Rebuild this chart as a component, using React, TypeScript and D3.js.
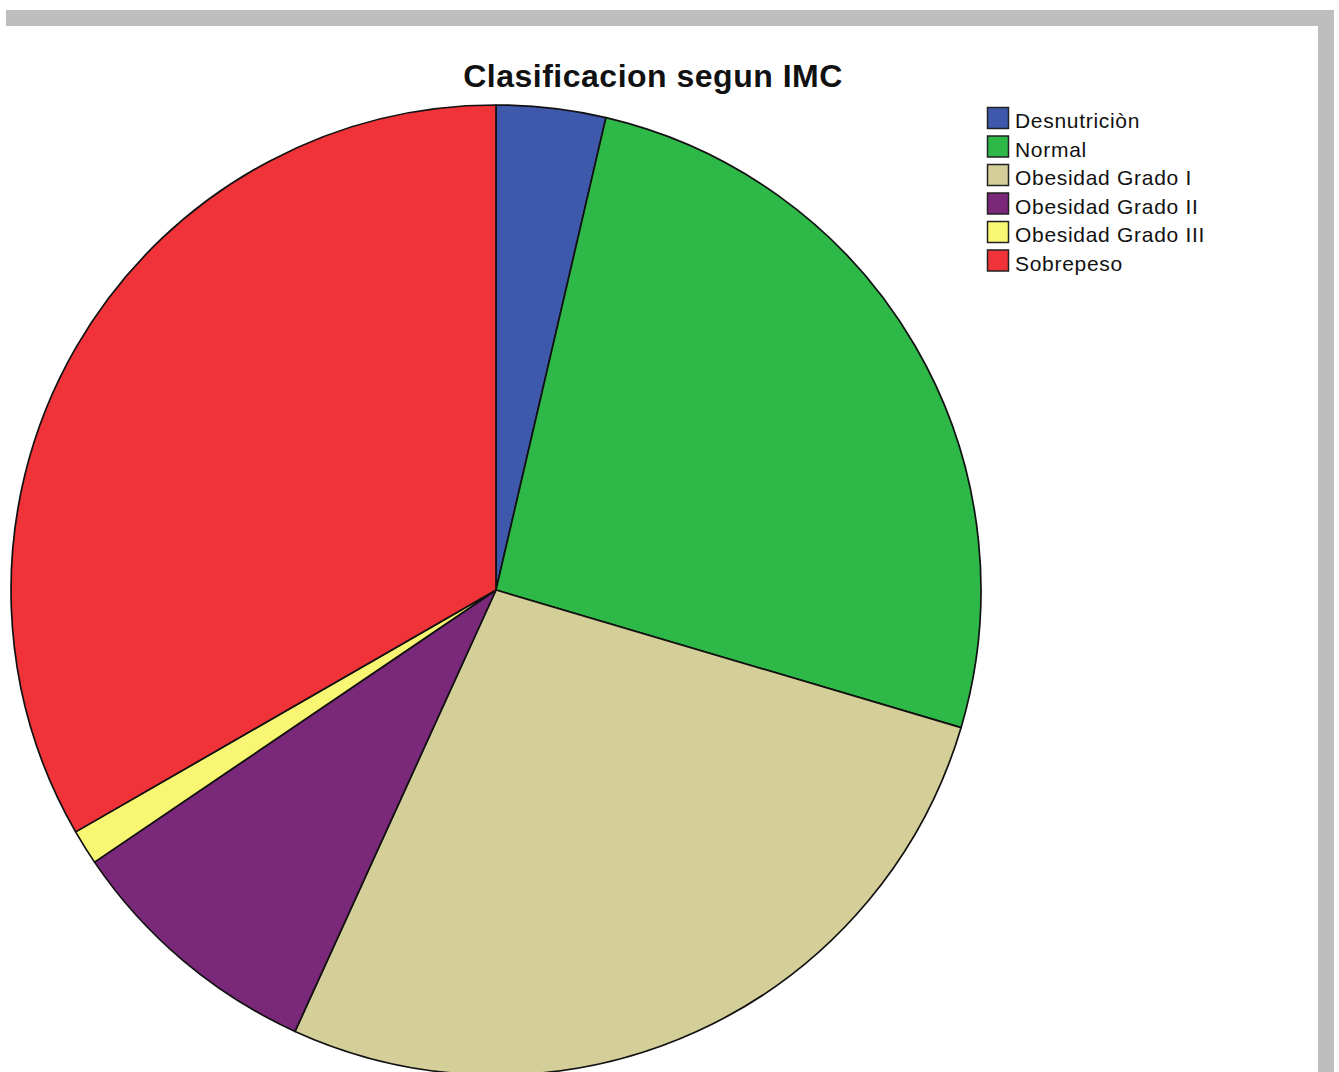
import React from "react";
import * as d3 from "d3";

const categories = ["Desnutriciòn", "Normal", "Obesidad Grado I", "Obesidad Grado II", "Obesidad Grado III", "Sobrepeso"];
const values = [3.64, 25.94, 27.22, 8.72, 1.17, 33.31];
const colors = ["#3E58AC", "#2EB848", "#D4CE98", "#7A287A", "#F8F672", "#EF3338"];
const title = "Clasificacion segun IMC";

const W = 1339;
const H = 1072;
const cx = 496;
const cy = 590;
const R = 485;

export default function App() {
  const pie = d3.pie<number>().sort(null).value((d) => d);
  const arcs = pie(values);
  const arc = d3.arc<d3.PieArcDatum<number>>().innerRadius(0).outerRadius(R);
  const legendY = d3.scaleLinear().domain([0, 1]).range([118, 146.5]);
  const font = "'Liberation Sans', Arial, sans-serif";
  return (
    <svg width={W} height={H} style={{ position: "absolute", left: 0, top: 0, background: "#fff" }}>
      <rect x={0} y={0} width={W} height={H} fill="#fff" />
      <rect x={6} y={10} width={1328} height={16} fill="#BEBEBE" />
      <rect x={1318} y={10} width={16} height={H - 10} fill="#BEBEBE" />
      <g transform={`translate(${cx},${cy})`}>
        {arcs.map((a, i) => (
          <path key={i} d={arc(a) || ""} fill={colors[i]} stroke="#111" strokeWidth={1.7} strokeLinejoin="round" />
        ))}
      </g>
      <text x={653} y={87} textAnchor="middle" fontFamily={font} fontWeight="bold" fontSize={32} letterSpacing={0.5} fill="#111">
        {title}
      </text>
      {categories.map((c, i) => (
        <g key={c} transform={`translate(0,${legendY(i)})`}>
          <rect x={987.5} y={-10.5} width={21} height={21} fill={colors[i]} stroke="#222" strokeWidth={1.5} />
          <text x={1015} y={10} fontFamily={font} fontSize={21} letterSpacing={0.7} fill="#111">
            {c}
          </text>
        </g>
      ))}
    </svg>
  );
}
